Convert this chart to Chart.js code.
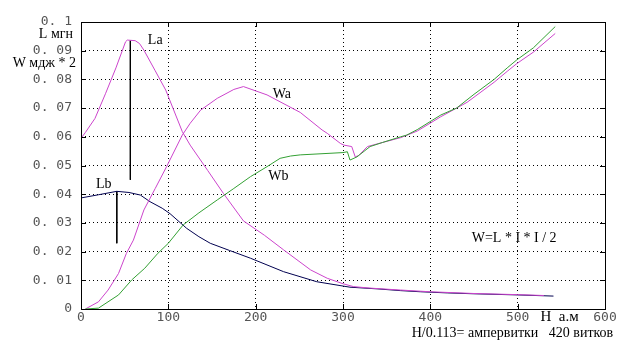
<!DOCTYPE html>
<html>
<head>
<meta charset="utf-8">
<script src="https://cdn.jsdelivr.net/npm/chart.js@4"></script>
<style>
  html, body { margin: 0; padding: 0; background: #fff; }
  #wrap { width: 633px; height: 352px; position: relative; }
</style>
</head>
<body>
<div id="wrap"><canvas id="chart"></canvas></div>
<script>
// H (а.м) and values
const laH = [0, 5, 16, 28, 40, 51, 53, 62, 67, 72, 85, 97, 116, 125, 145, 163, 186, 210, 232, 263, 282, 300, 312, 330, 366, 400, 450, 500, 530];
const laL = [0.0595, 0.0615, 0.0664, 0.0750, 0.0840, 0.0931, 0.0937, 0.0935, 0.0925, 0.0902, 0.0830, 0.0763, 0.0618, 0.0571, 0.0483, 0.0403, 0.0307, 0.0257, 0.0206, 0.0136, 0.0107, 0.0088, 0.0078, 0.0073, 0.0066, 0.0060, 0.0054, 0.0050, 0.0047];

const lbH = [0, 20, 41, 55, 68, 79, 93, 102, 121, 135, 148, 170, 194, 232, 270, 308, 340, 366, 389, 420, 450, 500, 541];
const lbL = [0.0387, 0.0398, 0.0410, 0.0406, 0.0397, 0.0374, 0.0351, 0.0332, 0.0281, 0.0252, 0.0229, 0.0204, 0.0177, 0.0130, 0.0095, 0.0076, 0.0070, 0.0064, 0.0060, 0.0056, 0.0053, 0.0049, 0.0045];

const waH = [5, 20, 31, 43, 52, 60, 72, 85, 98, 116, 125, 137, 156, 175, 186, 213, 251, 276, 282, 297, 301, 310, 314, 318, 328, 345, 366, 385, 412, 442, 450, 473, 488, 499, 518, 543];
const waW = [0, 0.0025, 0.0066, 0.0124, 0.0194, 0.0240, 0.0345, 0.0420, 0.0496, 0.0606, 0.0647, 0.0693, 0.0734, 0.0765, 0.0775, 0.0746, 0.0685, 0.0624, 0.0612, 0.0577, 0.0571, 0.0566, 0.0530, 0.0535, 0.0566, 0.0580, 0.0597, 0.0620, 0.0670, 0.0720, 0.0738, 0.0790, 0.0828, 0.0855, 0.0895, 0.0960];

const wbH = [5, 20, 43, 58, 73, 88, 100, 117, 135, 156, 175, 194, 213, 228, 240, 251, 300, 305, 308, 316, 331, 345, 366, 373, 385, 412, 430, 450, 473, 488, 499, 518, 543];
const wbW = [0, 0.0003, 0.0049, 0.0101, 0.0142, 0.0194, 0.0229, 0.0293, 0.0335, 0.0380, 0.0420, 0.0461, 0.0496, 0.0525, 0.0533, 0.0537, 0.0545, 0.0548, 0.0519, 0.0530, 0.0566, 0.0580, 0.0600, 0.0606, 0.0625, 0.0676, 0.0700, 0.0748, 0.0800, 0.0840, 0.0868, 0.0910, 0.0984];

// vertical marker lines at the L peaks
const markH = [56.5, 41];
const markTop = [0.0935, 0.0410];
const markBottom = [0.045, 0.0229];

// curve names and where they sit
const names = ['La', 'Lb', 'Wa', 'Wb'];
const nameH = [85, 26, 230, 226];
const nameV = [0.0937, 0.0436, 0.0749, 0.0463];

const formula = 'W=L * I * I / 2';
const yUnits = ['L мгн', 'W мдж * 2'];
const xUnit = 'H  а.м';
const subtitle = 'H/0.113= ампервитки   420 витков';

const magenta = '#cc44cc';
const navy = '#000050';
const green = '#33a033';

function pts(xs, ys) {
  return xs.map((x, i) => ({ x: x, y: ys[i] }));
}

const lineStyle = { pointRadius: 0, borderWidth: 1, tension: 0, fill: false };

const datasets = [
  { label: 'Wb', data: pts(wbH, wbW), borderColor: green, ...lineStyle },
  { label: 'Wa', data: pts(waH, waW), borderColor: magenta, ...lineStyle },
  { label: 'La', data: pts(laH, laL), borderColor: magenta, ...lineStyle },
  { label: 'Lb', data: pts(lbH, lbL), borderColor: navy, ...lineStyle },
];
markH.forEach((h, i) => {
  datasets.push({
    label: 'mark' + i,
    data: [{ x: h, y: markTop[i] }, { x: h, y: markBottom[i] }],
    borderColor: '#000', ...lineStyle
  });
});

const serif = '"Liberation Serif", "Times New Roman", serif';

// frame, inner tick marks and the texts
const extras = {
  id: 'extras',
  afterDraw(chart) {
    const ctx = chart.ctx;
    const a = chart.chartArea;
    const xs = chart.scales.x, ys = chart.scales.y;
    ctx.save();
    ctx.strokeStyle = '#000';
    ctx.lineWidth = 1;
    ctx.strokeRect(Math.round(a.left) + 0.5, Math.round(a.top) + 0.5,
      Math.round(a.right - a.left), Math.round(a.bottom - a.top));
    ctx.beginPath();
    ys.ticks.forEach(t => {
      const y = Math.round(ys.getPixelForValue(t.value)) + 0.5;
      ctx.moveTo(a.left, y); ctx.lineTo(a.left + 5, y);
      ctx.moveTo(a.right, y); ctx.lineTo(a.right - 5, y);
    });
    xs.ticks.forEach(t => {
      const x = Math.round(xs.getPixelForValue(t.value)) + 0.5;
      ctx.moveTo(x, a.top); ctx.lineTo(x, a.top + 5);
      ctx.moveTo(x, a.bottom); ctx.lineTo(x, a.bottom - 5);
    });
    ctx.stroke();

    ctx.fillStyle = '#000';
    ctx.font = '14px ' + serif;
    ctx.textAlign = 'center';
    ctx.textBaseline = 'middle';
    names.forEach((n, i) => {
      ctx.fillText(n, xs.getPixelForValue(nameH[i]), ys.getPixelForValue(nameV[i]));
    });
    ctx.fillText(formula, xs.getPixelForValue(496), ys.getPixelForValue(0.0247));

    ctx.textAlign = 'right';
    ctx.fillText(yUnits[0], a.left - 8, ys.getPixelForValue(0.0958));
    ctx.fillText(yUnits[1], a.left - 5, ys.getPixelForValue(0.0855));

    ctx.textAlign = 'center';
    ctx.font = '15px ' + serif;
    ctx.fillText(xUnit, xs.getPixelForValue(548), a.bottom + 8);
    ctx.font = '14px ' + serif;
    ctx.fillText(subtitle, xs.getPixelForValue(494), a.bottom + 24);
    ctx.restore();
  }
};

new Chart(document.getElementById('chart'), {
  type: 'line',
  data: { datasets: datasets },
  options: {
    responsive: true,
    maintainAspectRatio: false,
    animation: false,
    layout: { padding: { top: 22, right: 28, left: 0, bottom: 0 } },
    plugins: { legend: { display: false }, tooltip: { enabled: false } },
    scales: {
      x: {
        type: 'linear',
        min: 0, max: 600,
        border: { display: false, dash: [1, 3] },
        grid: { color: '#000', drawTicks: false, lineWidth: 1 },
        ticks: {
          stepSize: 100,
          padding: 1,
          color: '#555',
          font: { family: '"DejaVu Sans Mono", monospace', size: 13 },
          maxRotation: 0,
          callback: v => String(v)
        },
        afterFit: s => { s.height = 43; }
      },
      y: {
        min: 0, max: 0.1,
        border: { display: false, dash: [1, 3] },
        grid: { color: '#000', drawTicks: false, lineWidth: 1 },
        ticks: {
          stepSize: 0.01,
          padding: 9,
          color: '#555',
          font: { family: '"DejaVu Sans Mono", monospace', size: 13 },
          callback: v => {
            if (Math.abs(v) < 1e-9) return '0';
            let s = v.toFixed(2).replace(/0$/, '');
            return s.replace('0.', '0. ');
          }
        },
        afterFit: s => { s.width = 81; }
      }
    }
  },
  plugins: [extras]
});
</script>
</body>
</html>
